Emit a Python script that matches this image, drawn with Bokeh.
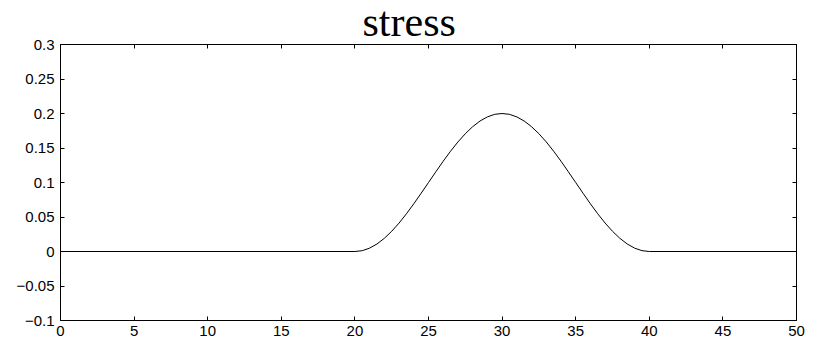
from bokeh.plotting import figure
from bokeh.models import Range1d, LinearAxis, FixedTicker, CustomJSTickFormatter
from bokeh.embed import file_html
from bokeh.resources import INLINE

# ---- data ----
x_curve = [0, 20, 20.5, 21, 21.5, 22, 22.5, 23, 23.5, 24, 24.5, 25, 25.5, 26, 26.5, 27, 27.5,
           28, 28.5, 29, 29.5, 30, 30.5, 31, 31.5, 32, 32.5, 33, 33.5, 34, 34.5, 35, 35.5,
           36, 36.5, 37, 37.5, 38, 38.5, 39, 39.5, 40, 50]
y_curve = [0.0, 0.0, 0.0012, 0.0049, 0.0109, 0.0191, 0.0293, 0.0412, 0.0546, 0.0691, 0.0844,
           0.1, 0.1156, 0.1309, 0.1454, 0.1588, 0.1707, 0.1809, 0.1891, 0.1951, 0.1988, 0.2,
           0.1988, 0.1951, 0.1891, 0.1809, 0.1707, 0.1588, 0.1454, 0.1309, 0.1156, 0.1,
           0.0844, 0.0691, 0.0546, 0.0412, 0.0293, 0.0191, 0.0109, 0.0049, 0.0012, 0.0, 0.0]

x_ticks = [0, 5, 10, 15, 20, 25, 30, 35, 40, 45, 50]
y_ticks = [-0.1, -0.05, 0, 0.05, 0.1, 0.15, 0.2, 0.25, 0.3]
y_tick_labels = ["\u22120.1", "\u22120.05", "0", "0.05", "0.1", "0.15", "0.2", "0.25", "0.3"]
title_text = "stress"

# ---- figure ----
p = figure(width=815, height=344, output_backend="svg", toolbar_location=None,
           x_range=Range1d(0, 50), y_range=Range1d(-0.1, 0.3),
           x_axis_type=None, y_axis_type=None, title=title_text,
           min_border_left=60, min_border_right=19, min_border_top=44, min_border_bottom=24)
p.grid.visible = False
p.outline_line_color = "black"
p.outline_line_width = 1
p.background_fill_color = "white"
p.border_fill_color = "white"

p.title.text_font = "Liberation Serif"
p.title.text_font_size = "42px"
p.title.text_font_style = "normal"
p.title.text_color = "black"
p.title.align = "left"
p.title.offset = 302
p.title.vertical_align = "top"
p.title.standoff = -5

label_font = "Liberation Sans"

def make_axis(ticks, overrides=None, show_labels=True, standoff=5):
    ax = LinearAxis(ticker=FixedTicker(ticks=ticks))
    ax.major_tick_in = 4
    ax.major_tick_out = 0
    ax.minor_tick_line_color = None
    ax.axis_line_color = "black"
    ax.major_tick_line_color = "black"
    ax.major_label_text_font = label_font
    ax.major_label_text_color = "black"
    if show_labels:
        ax.major_label_text_font_size = "15px"
        ax.major_label_standoff = standoff
        if overrides:
            ax.major_label_overrides = overrides
    else:
        ax.formatter = CustomJSTickFormatter(code="return ''")
        ax.major_label_text_font_size = "0px"
        ax.major_label_standoff = 0
    return ax

y_over = {t: l for t, l in zip(y_ticks, y_tick_labels)}
x_over = {t: str(t) for t in x_ticks}

p.add_layout(make_axis(x_ticks, x_over, True, 5), "below")
p.add_layout(make_axis(y_ticks, y_over, True, 6), "left")
p.add_layout(make_axis(x_ticks, show_labels=False), "above")
p.add_layout(make_axis(y_ticks, show_labels=False), "right")

p.line(x_curve, y_curve, line_color="black", line_width=1)

open("out.html", "w").write(file_html(p, INLINE))
